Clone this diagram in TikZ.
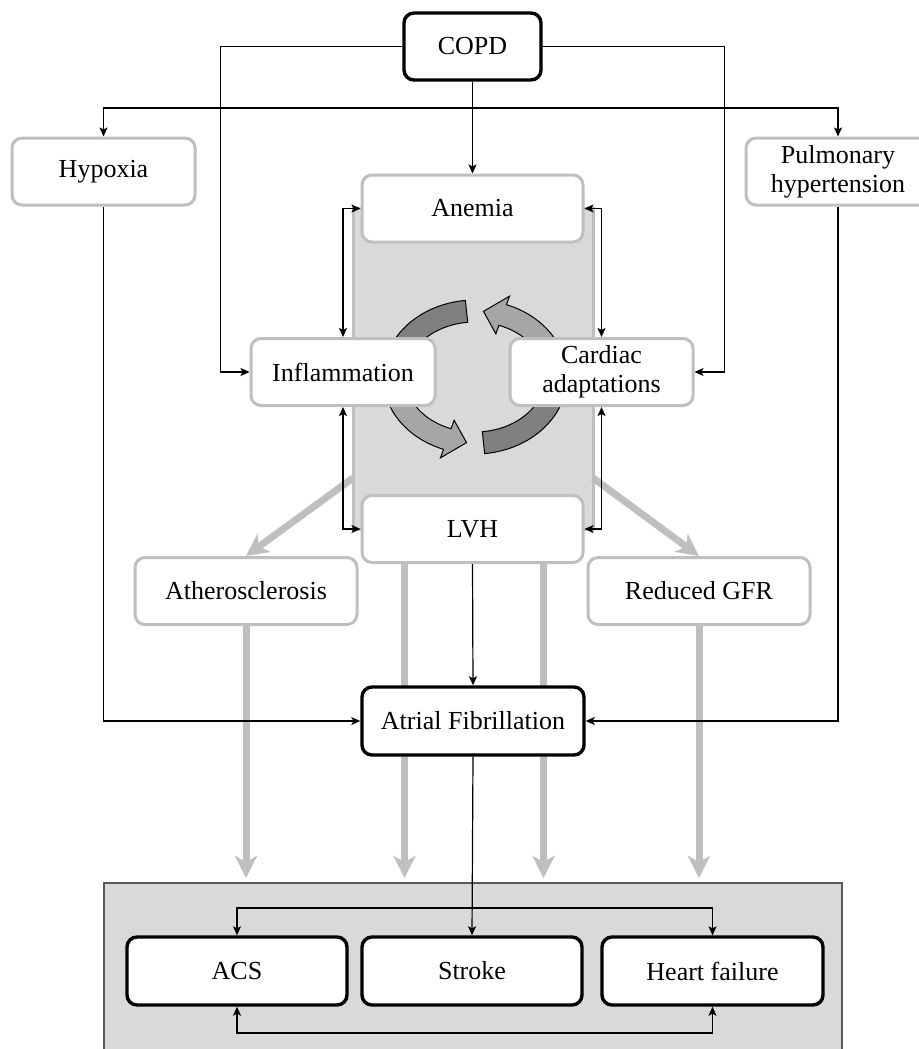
\documentclass[tikz,border=0pt]{standalone}
\usepackage{fontspec}
\setmainfont{Liberation Serif}
\usetikzlibrary{calc,arrows.meta,backgrounds}
\definecolor{boxgray}{HTML}{BFBFBF}
\definecolor{panelgray}{HTML}{D9D9D9}
\definecolor{paneledge}{HTML}{595959}
\definecolor{cycdark}{HTML}{808080}
\definecolor{cyclight}{HTML}{A6A6A6}
\def\cycband[#1](#2:#3){\draw[#1] ($(cyc)+(#2:92 and 77)$) arc[start angle=#2, end angle=#3, x radius=92, y radius=77] -- ($(cyc)+(#3:70 and 55)$) arc[start angle=#3, end angle=#2, x radius=70, y radius=55] -- cycle;}
\def\cycarrow[#1](#2:#3:#4){\draw[#1] ($(cyc)+(#2:92 and 77)$) arc[start angle=#2, end angle=#3, x radius=92, y radius=77] -- ($(cyc)+(#3:101 and 86)$) -- ($(cyc)+(#4:81 and 66)$) -- ($(cyc)+(#3:61 and 46)$) -- ($(cyc)+(#3:70 and 55)$) arc[start angle=#3, end angle=#2, x radius=70, y radius=55] -- cycle;}

\begin{document}
\begin{tikzpicture}[x=0.5pt,y=-0.5pt,
	font=\fontsize{13}{14.5}\selectfont,
	sidebox/.style={draw=boxgray, line width=1.5pt, fill=white, rounded corners=5pt, minimum height=33.5pt, align=center, inner sep=2pt},
	keybox/.style={draw=black, line width=1.7pt, fill=white, rounded corners=5pt, minimum height=33.5pt, align=center, inner sep=2pt},
	link/.style={line width=0.6pt, -{Stealth[length=4.5pt,width=4pt,inset=1pt]}},
	twolink/.style={line width=0.6pt, {Stealth[length=4.5pt,width=4pt,inset=1pt]}-{Stealth[length=4.5pt,width=4pt,inset=1pt]}},
	fatarrow/.style={draw=boxgray, line width=3.5pt, -{Stealth[length=11pt,width=11pt,inset=3pt]}}]
	%%%%% START %%%%%
	\useasboundingbox (0,0) rectangle (919,1049);
	
	\coordinate (cyc) at (475,377);
	\coordinate (split) at (472,108);
	\coordinate (paneltop) at (0,878);
	
	% boxes
	\node[keybox, minimum width=68.5pt] (copd) at (472.5,46.5) {COPD};
	\node[sidebox, minimum width=91.5pt] (hypoxia) at (103.5,171.5) {Hypoxia};
	\node[sidebox, minimum width=92pt] (pulm) at (838,171.5) {Pulmonary\\hypertension};
	\node[sidebox, minimum width=110.5pt] (anemia) at (472.5,208.5) {Anemia};
	\node[sidebox, minimum width=92pt] (infl) at (343,372) {Inflammation};
	\node[sidebox, minimum width=91.5pt] (cardiac) at (601.5,372) {Cardiac\\adaptations};
	\node[sidebox, minimum width=110.5pt] (lvh) at (472.5,529) {LVH};
	\node[sidebox, minimum width=111pt] (athero) at (246,591) {Atherosclerosis};
	\node[sidebox, minimum width=111pt] (gfr) at (699,591) {Reduced GFR};
	\node[keybox, minimum width=111pt, minimum height=34pt] (af) at (473,721) {Atrial Fibrillation};
	
	\coordinate (lvhl) at ($(lvh.south)+(-68,0)$);
	\coordinate (lvhr) at ($(lvh.south)+(71,0)$);
	
	\begin{scope}[on background layer]
		\draw[fill=panelgray, draw=boxgray, line width=1.5pt] (353,208) rectangle (593,529);
		\draw[fill=panelgray, draw=paneledge, line width=0.9pt] (104,883) rectangle (842,1070);
		
		\cycband[fill=cycdark, line width=0.5pt](-96:-200)
		\cycarrow[fill=cyclight, line width=0.5pt](20:-70:-84)
		\cycarrow[fill=cyclight, line width=0.5pt](-160:-250:-264)
		\cycband[fill=cycdark, line width=0.5pt](-276:-380)
		
		\draw[fatarrow] (353,478) -- (athero.north);
		\draw[fatarrow] (593,478) -- (gfr.north);
		\draw[fatarrow] (athero.south) -- (athero.south |- paneltop);
		\draw[fatarrow] (lvhl) -- (lvhl |- paneltop);
		\draw[fatarrow] (lvhr) -- (lvhr |- paneltop);
		\draw[fatarrow] (gfr.south) -- (gfr.south |- paneltop);
	\end{scope}
	
	\node[keybox, minimum width=110pt, minimum height=34pt] (acs) at (237,971) {ACS};
	\node[keybox, minimum width=110pt, minimum height=34pt] (stroke) at (472,971) {Stroke};
	\node[keybox, minimum width=110.5pt, minimum height=34pt] (hf) at (712.5,971) {Heart failure};
	
	% COPD branches
	\draw[link] (copd.south) -- (anemia.north);
	\draw[link] (split) -| (hypoxia.north);
	\draw[link] (split) -| (pulm.north);
	\draw[link] (copd.west) -| ($(infl.west)+(-29,0)$) -- (infl.west);
	\draw[link] (copd.east) -| ($(cardiac.east)+(30,0)$) -- (cardiac.east);
	
	% cycle links
	\draw[twolink] (anemia.west) -| (infl.north);
	\draw[twolink] (infl.south) |- (lvh.west);
	\draw[twolink] (anemia.east) -| (cardiac.north);
	\draw[twolink] (cardiac.south) |- (lvh.east);
	
	% into AF
	\draw[link] (hypoxia.south) |- (af.west);
	\draw[link] (pulm.south) |- (af.east);
	\draw[link] (lvh.south) -- (af.north);
	\draw[link] (af.south) -- (stroke.north);
	
	% outcomes
	\draw[twolink] (acs.north) |- (472,908) -| (hf.north);
	\draw[twolink] (acs.south) |- (472,1033) -| (hf.south);
	
	%%%%% END %%%%%
\end{tikzpicture}
\end{document}
